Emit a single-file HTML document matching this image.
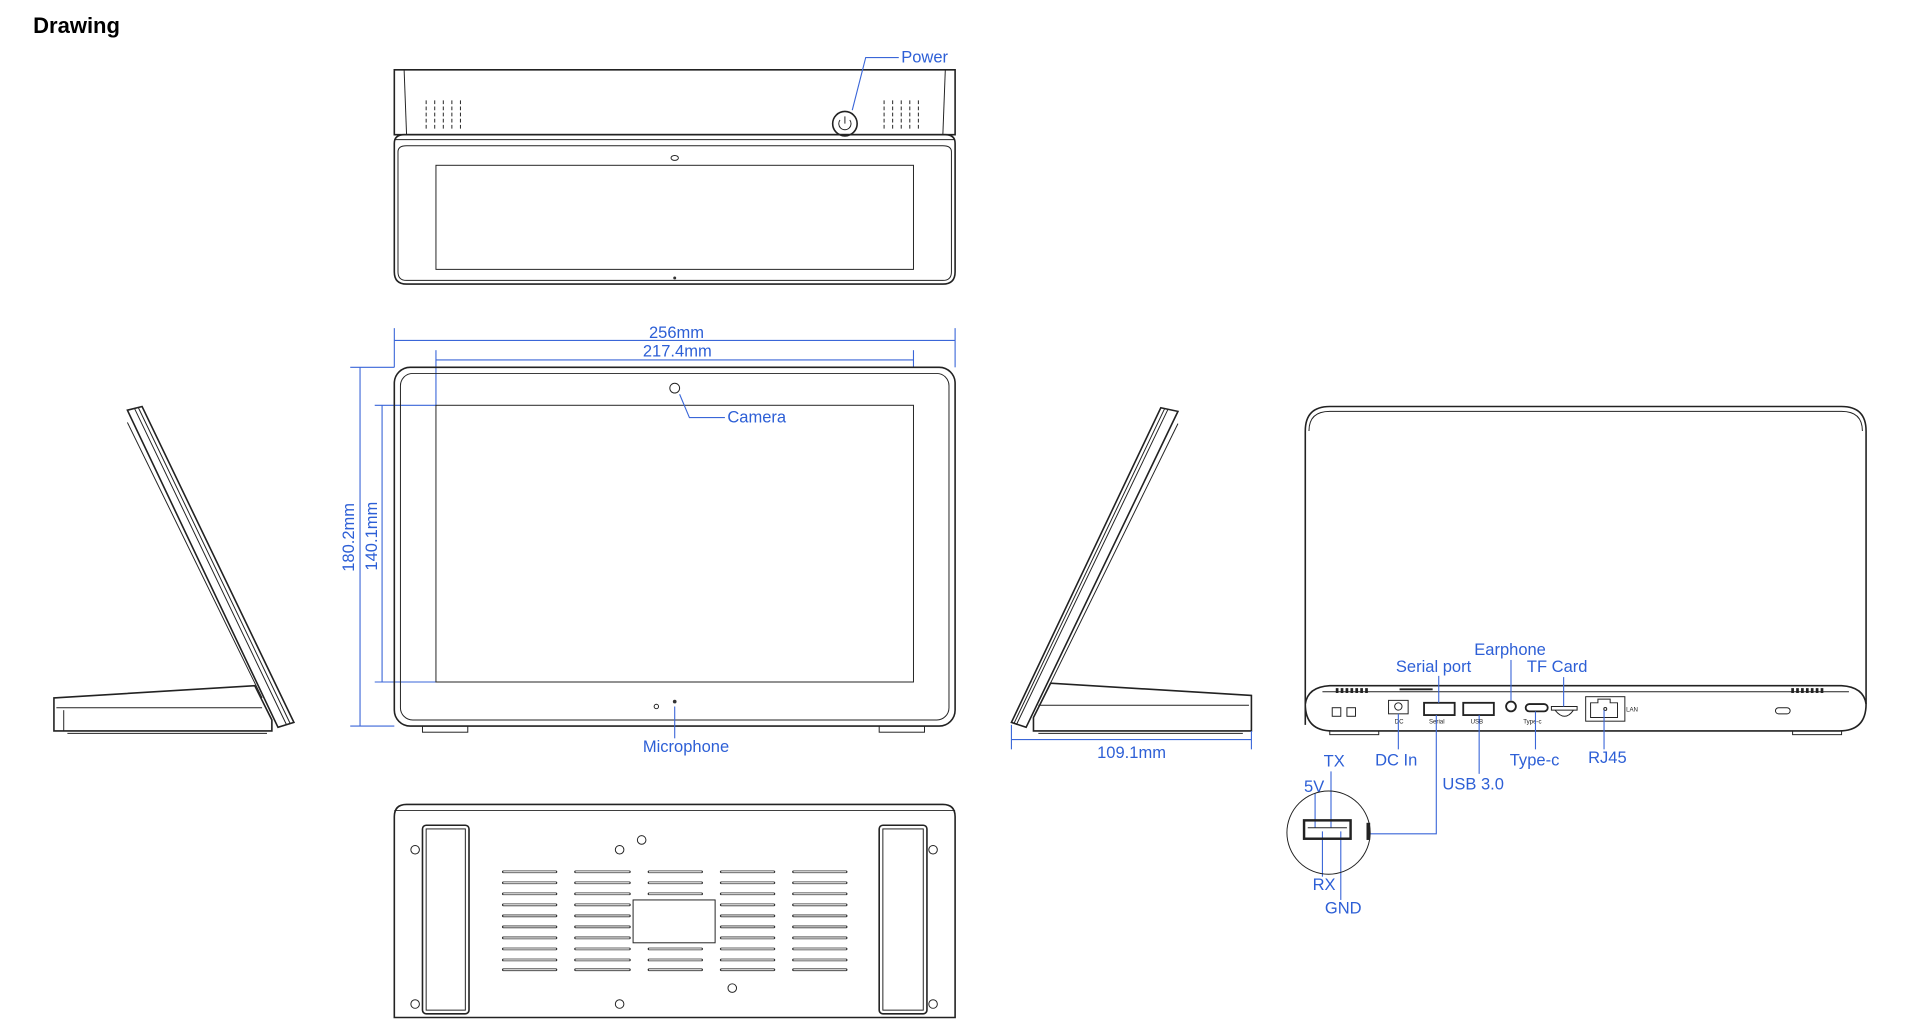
<!DOCTYPE html>
<html><head><style>
html,body{margin:0;padding:0;background:#fff;width:1920px;height:1035px;overflow:hidden}
svg{display:block}
text{font-family:"Liberation Sans",Arial,sans-serif}
.b{fill:#2d5fd6;font-size:13.5px}
.ln{fill:none;stroke:#222;stroke-width:1.3}
.th{fill:none;stroke:#222;stroke-width:0.8}
.bl{fill:none;stroke:#3a66d8;stroke-width:0.9}
</style></head><body>
<svg width="1920" height="1035" viewBox="0 0 1568 845.3" xmlns="http://www.w3.org/2000/svg">
<text x="27" y="27" style="font-size:18px;font-weight:bold" fill="#000">Drawing</text>

<!-- TOP VIEW -->
<path class="ln" d="M322,57 L780,57 L780,110 L322,110 Z"/>
<line class="th" x1="330" y1="57" x2="332" y2="110"/><line class="th" x1="772" y1="57" x2="770" y2="110"/>
<g class="th">
<path d="M348,82v24M355,82v24M362,82v24M369,82v24M376,82v24M722,82v24M729,82v24M736,82v24M743,82v24M750,82v24" stroke-dasharray="3,2"/>
</g>
<circle class="ln" cx="690" cy="101" r="10"/>
<path class="th" d="M686,98 a5,5 0 1 0 8,0 M690,95 v6"/>
<path class="bl" d="M696,90 L707,47 L734,47"/>
<text class="b" x="736" y="51">Power</text>
<path class="ln" d="M322,117 Q322,110 330,110 L772,110 Q780,110 780,117 L780,222 Q780,232 770,232 L332,232 Q322,232 322,222 Z"/>
<line class="th" x1="322" y1="114" x2="780" y2="114"/>
<path class="th" d="M325,124 Q325,119 332,119 L770,119 Q777,119 777,124 L777,222 Q777,229 770,229 L332,229 Q325,229 325,222 Z"/>
<rect class="th" x="356" y="135" width="390" height="85"/>
<ellipse class="th" cx="551" cy="129" rx="3" ry="2"/>
<circle cx="551" cy="227" r="1.2" fill="#333"/>

<!-- FRONT VIEW dims -->
<g class="bl">
<line x1="322" y1="268" x2="322" y2="300"/><line x1="780" y1="268" x2="780" y2="300"/>
<line x1="322" y1="278" x2="780" y2="278"/>
<line x1="356" y1="286" x2="356" y2="331"/><line x1="746" y1="286" x2="746" y2="300"/>
<line x1="356" y1="294" x2="746" y2="294"/>
<line x1="286" y1="300" x2="322" y2="300"/><line x1="286" y1="593" x2="322" y2="593"/>
<line x1="294" y1="300" x2="294" y2="593"/>
<line x1="306" y1="331" x2="356" y2="331"/><line x1="306" y1="557" x2="356" y2="557"/>
<line x1="312" y1="331" x2="312" y2="557"/>
</g>
<text class="b" x="530" y="276">256mm</text>
<text class="b" x="525" y="291">217.4mm</text>
<text class="b" transform="translate(289,467) rotate(-90)">180.2mm</text>
<text class="b" transform="translate(308,466) rotate(-90)">140.1mm</text>
<!-- FRONT VIEW -->
<rect class="ln" x="322" y="300" width="458" height="293" rx="13"/>
<rect class="th" x="327" y="305" width="448" height="283" rx="10"/>
<rect class="th" x="356" y="331" width="390" height="226"/>
<circle class="th" cx="551" cy="317" r="4"/>
<path class="bl" d="M555,322 L563,341 L592,341"/>
<text class="b" x="594" y="345">Camera</text>
<circle cx="551" cy="573" r="1.5" fill="#333"/><circle class="th" cx="536" cy="577" r="1.8"/>
<line class="bl" x1="551" y1="577" x2="551" y2="603"/>
<text class="b" x="525" y="614">Microphone</text>
<rect class="th" x="345" y="593" width="37" height="5"/><rect class="th" x="718" y="593" width="37" height="5"/>

<!-- BOTTOM VIEW -->
<path class="ln" d="M322,667 Q322,657 332,657 L770,657 Q780,657 780,667 L780,831 L322,831 Z"/>
<line class="th" x1="322" y1="662" x2="780" y2="662"/>
<rect class="ln" x="345" y="674" width="38" height="154" rx="3"/>
<rect class="th" x="348" y="677" width="32" height="148"/>
<rect class="ln" x="718" y="674" width="39" height="154" rx="3"/>
<rect class="th" x="721" y="677" width="33" height="148"/>
<g class="th">
<circle cx="339" cy="694" r="3.5"/><circle cx="762" cy="694" r="3.5"/><circle cx="339" cy="820" r="3.5"/><circle cx="762" cy="820" r="3.5"/>
<circle cx="506" cy="694" r="3.5"/><circle cx="524" cy="686" r="3.5"/><circle cx="506" cy="820" r="3.5"/><circle cx="598" cy="807" r="3.5"/>
<rect x="517" y="735" width="67" height="35"/>
</g>
<g stroke="#333" stroke-width="2.2" stroke-linecap="round">
<path d="M411,712h43M411,721h43M411,730h43M411,739h43M411,748h43M411,757h43M411,766h43M411,775h43M411,784h43M411,792h43"/>
<path d="M470,712h44M470,721h44M470,730h44M470,739h44M470,748h44M470,757h44M470,766h44M470,775h44M470,784h44M470,792h44"/>
<path d="M530,712h43M530,721h43M530,730h43M530,775h43M530,784h43M530,792h43"/>
<path d="M589,712h43M589,721h43M589,730h43M589,739h43M589,748h43M589,757h43M589,766h43M589,775h43M589,784h43M589,792h43"/>
<path d="M648,712h43M648,721h43M648,730h43M648,739h43M648,748h43M648,757h43M648,766h43M648,775h43M648,784h43M648,792h43"/>
</g>
<g stroke="#fff" stroke-width="0.9"><path d="M411,712h43M411,721h43M411,730h43M411,739h43M411,748h43M411,757h43M411,766h43M411,775h43M411,784h43M411,792h43M470,712h44M470,721h44M470,730h44M470,739h44M470,748h44M470,757h44M470,766h44M470,775h44M470,784h44M470,792h44M530,712h43M530,721h43M530,730h43M530,775h43M530,784h43M530,792h43M589,712h43M589,721h43M589,730h43M589,739h43M589,748h43M589,757h43M589,766h43M589,775h43M589,784h43M589,792h43M648,712h43M648,721h43M648,730h43M648,739h43M648,748h43M648,757h43M648,766h43M648,775h43M648,784h43M648,792h43"/></g>

<!-- LEFT SIDE -->
<path class="ln" d="M104,335 L116,332 L240,590 L227,594 Z"/>
<line class="th" x1="110" y1="334" x2="234" y2="592"/><line class="th" x1="113" y1="333" x2="237" y2="591"/>
<line class="th" x1="104" y1="345" x2="214" y2="570"/>
<path class="ln" d="M44,570 L208,560 L222,588 L222,597 L52,597 L44,597 Z"/>
<line class="th" x1="46" y1="578" x2="214" y2="578"/><line class="th" x1="52" y1="580" x2="52" y2="597"/>
<line class="th" x1="55" y1="599" x2="218" y2="599"/>

<!-- RIGHT SIDE -->
<path class="ln" d="M948,333 L962,336 L838,594 L826,590 Z"/>
<line class="th" x1="954" y1="334" x2="830" y2="592"/><line class="th" x1="951" y1="334" x2="828" y2="591"/>
<line class="th" x1="962" y1="346" x2="852" y2="570"/>
<path class="ln" d="M1022,568 L858,558 L844,586 L844,597 L1022,597 Z"/>
<line class="th" x1="848" y1="576" x2="1020" y2="576"/><line class="th" x1="848" y1="599" x2="1015" y2="599"/>
<g class="bl"><line x1="826" y1="592" x2="826" y2="612"/><line x1="1022" y1="597" x2="1022" y2="612"/><line x1="826" y1="604" x2="1022" y2="604"/></g>
<text class="b" x="896" y="619">109.1mm</text>

<!-- BACK VIEW -->
<path class="ln" d="M1066,592 L1066,352 Q1066,332 1086,332 L1504,332 Q1524,332 1524,352 L1524,575 Q1524,597 1502,597 L1088,597 Q1066,597 1066,575"/>
<path class="th" d="M1069,352 Q1069,336 1086,336 L1504,336 Q1521,336 1521,352"/>
<path class="ln" d="M1066,575 Q1068,561 1086,560 L1504,560 Q1522,561 1524,575"/>
<line class="th" x1="1080" y1="565" x2="1510" y2="565"/>
<g stroke="#222" stroke-width="2.2"><path d="M1092,562v4M1096,562v4M1100,562v4M1104,562v4M1108,562v4M1112,562v4M1116,562v4M1464,562v4M1468,562v4M1472,562v4M1476,562v4M1480,562v4M1484,562v4M1488,562v4"/></g>
<line stroke="#222" stroke-width="1.5" x1="1143" y1="563" x2="1170" y2="563"/>
<g class="th">
<rect x="1088" y="578" width="7" height="7"/><rect x="1100" y="578" width="7" height="7"/>
<rect x="1134" y="572" width="16" height="11"/><circle cx="1142" cy="577" r="3"/>
<rect x="1163" y="574" width="25" height="10" stroke-width="1.5"/>
<rect x="1195" y="574" width="25" height="10" stroke-width="1.5"/>
<circle cx="1234" cy="577" r="4" stroke-width="1.5"/>
<rect x="1246" y="575" width="18" height="6" rx="3" stroke-width="1.5"/>
<path d="M1267,577h21v3h-21z M1270,580 Q1278,590 1285,580"/>
<rect x="1295" y="569" width="32" height="20"/><path d="M1299,574h6v-3h10v3h6v12h-22z"/><circle cx="1311" cy="579" r="1.2"/>
<rect x="1450" y="578" width="12" height="5" rx="2.5"/>
<rect x="1086" y="597" width="40" height="3"/><rect x="1464" y="597" width="40" height="3"/>
</g>
<g font-size="5" fill="#222"><text x="1139" y="591">DC</text><text x="1167" y="591">Serial</text><text x="1201" y="591">USB</text><text x="1244" y="591">Type-c</text><text x="1328" y="581">LAN</text></g>
<g class="bl">
<line x1="1142" y1="583" x2="1142" y2="612"/>
<line x1="1175" y1="552" x2="1175" y2="574"/>
<line x1="1208" y1="584" x2="1208" y2="632"/>
<line x1="1234" y1="539" x2="1234" y2="572"/>
<line x1="1277" y1="553" x2="1277" y2="577"/>
<line x1="1254" y1="581" x2="1254" y2="612"/>
<line x1="1310" y1="580" x2="1310" y2="612"/>
<path d="M1119,681 L1173,681 L1173,584"/>
<line x1="1074" y1="648" x2="1074" y2="676"/><line x1="1087" y1="630" x2="1087" y2="676"/>
<line x1="1080" y1="679" x2="1080" y2="716"/><line x1="1095" y1="679" x2="1095" y2="735"/>
</g>
<text class="b" x="1204" y="535">Earphone</text>
<text class="b" x="1140" y="549">Serial port</text>
<text class="b" x="1247" y="549">TF Card</text>
<text class="b" x="1123" y="625">DC In</text>
<text class="b" x="1178" y="645">USB 3.0</text>
<text class="b" x="1233" y="625">Type-c</text>
<text class="b" x="1297" y="623">RJ45</text>
<text class="b" x="1081" y="626">TX</text>
<text class="b" x="1065" y="647">5V</text>
<text class="b" x="1072" y="727">RX</text>
<text class="b" x="1082" y="746">GND</text>
<circle class="th" cx="1085" cy="680" r="34"/>
<rect x="1065" y="670" width="38" height="15" fill="none" stroke="#222" stroke-width="2"/>
<line class="th" x1="1068" y1="676" x2="1100" y2="676"/>
<rect x="1116" y="672" width="3" height="14" fill="#222"/>
</svg>
</body></html>
